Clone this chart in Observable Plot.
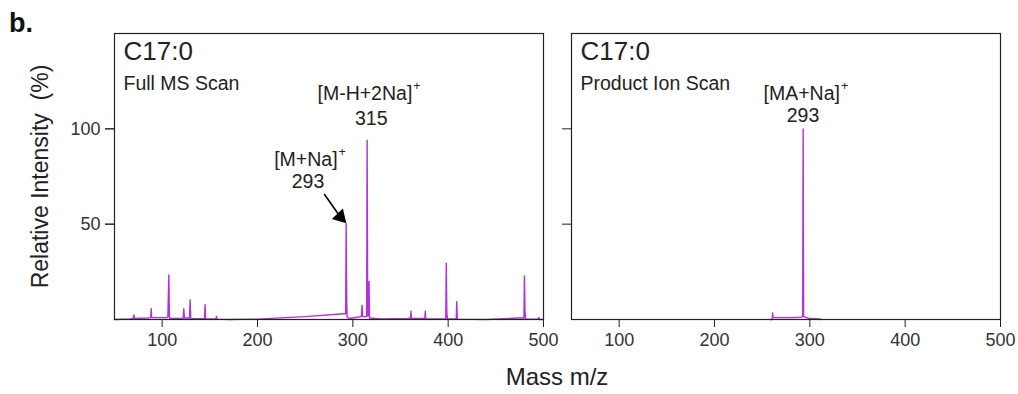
<!DOCTYPE html>
<html>
<head>
<meta charset="utf-8">
<script src="https://cdn.jsdelivr.net/npm/d3@7"></script>
<script src="https://cdn.jsdelivr.net/npm/@observablehq/plot@0.6"></script>
<style>
  html, body { margin: 0; padding: 0; background: #fff; }
  #wrap { position: relative; width: 1018px; height: 394px; font-family: "Liberation Sans", Arial, sans-serif; }
  #panel-letter { position: absolute; left: 9px; top: 8px; font-size: 27px; font-weight: bold; color: #111; }
  #xlabel { position: absolute; left: 0; width: 1114px; top: 363px; text-align: center; font-size: 24px; color: #222; }
  svg { position: absolute; left: 0; top: 0; }
</style>
</head>
<body>
<div id="wrap">
  <div id="chart"></div>
  <div id="panel-letter">b.</div>
  <div id="xlabel">Mass m/z</div>
</div>
<script>
// ---- data ----
const panels = ["full", "product"];
const panelTitles = ["Full MS Scan", "Product Ion Scan"];
const compound = "C17:0";
const yLabel = "Relative Intensity\u00a0\u00a0(%)";

// Full MS scan spectrum (m/z, relative intensity %)
const fullMz = [50, 66, 69.5, 70.4, 71, 85, 88, 88.5, 89, 104, 106, 107, 107.6, 108,
  122, 122.7, 123.3, 128.7, 129.3, 130, 144.4, 145, 145.6, 156.5, 157, 157.5, 170,
  200, 250, 291, 292.5, 293, 293.6, 294, 296, 305, 309, 309.7, 310.3, 314.5, 315,
  315.6, 316.5, 317, 317.5, 330, 358, 360.5, 361, 361.5, 375.5, 376, 376.5, 396.5,
  397.5, 398, 398.6, 399.2, 408.5, 409, 409.6, 440, 475, 479.5, 480, 480.6, 481.2,
  494, 495, 496, 500];
const fullIntensity = [0, 0.3, 0.5, 2.4, 0.5, 0.8, 1, 5.6, 1, 1, 1.2, 23.4, 1.5, 0.6,
  0.5, 5.6, 0.8, 0.8, 10.3, 0.4, 0.4, 7.7, 0.3, 0.3, 1.6, 0.2, 0,
  0.2, 1.5, 3, 3, 50.2, 9, 1.5, 0.5, 1.2, 1.5, 7.5, 1.5, 1.5, 94,
  2, 2, 20, 0.8, 0.3, 0.5, 0.8, 4.3, 0.5, 0.5, 4.3, 0.3, 0.3,
  0.5, 29.5, 3.5, 0.3, 0.3, 9.4, 0.2, 0, 0.8, 0.8, 22.9, 4, 0.3,
  0.2, 1, 0, 0];

// Product ion scan spectrum
const productMz = [258, 260.5, 261, 261.5, 280, 291, 292.5, 293, 293.5, 300, 310, 312];
const productIntensity = [0, 0, 3.5, 1, 1, 1.2, 1.5, 100, 1.5, 0.5, 0.3, 0];

// Ion annotations
const ionPanel = ["full", "full", "product"];
const ionFormula = ["[M-H+2Na]", "[M+Na]", "[MA+Na]"];
const ionMass = ["315", "293", "293"];
const ionFormulaX = [362.4, 284, 331.6];
const ionFormulaY = [118.4, 83.7, 118.4];
const ionMassX = [319.3, 253, 292.8];
const ionMassY = [105.4, 72.4, 107.1];

// Arrow toward the 293 peak in the full scan
const arrowFrom = {mz: 270, intensity: 65.8};
const arrowTo = {mz: 286.9, intensity: 53.8};

const xTicks = [100, 200, 300, 400, 500];
const yTicks = [50, 100];

// ---- tables ----
const spectrum = [
  ...fullMz.map((mz, i) => ({panel: "full", mz, intensity: fullIntensity[i]})),
  ...productMz.map((mz, i) => ({panel: "product", mz, intensity: productIntensity[i]}))
];
const headers = panels.map((p, i) => ({panel: p, compound, title: panelTitles[i]}));
const ions = ionPanel.map((p, i) => ({
  panel: p, formula: ionFormula[i], mass: ionMass[i],
  fx: ionFormulaX[i], fy: ionFormulaY[i], mx: ionMassX[i], my: ionMassY[i]
}));
const arrow = [{panel: "full", x1: arrowFrom.mz, y1: arrowFrom.intensity, x2: arrowTo.mz, y2: arrowTo.intensity}];
const yTitle = [{panel: "full", label: yLabel}];

const purple = "#b42ee4";
const chart = Plot.plot({
  width: 1018,
  height: 394,
  marginLeft: 114,
  marginRight: 18,
  marginTop: 33,
  marginBottom: 75,
  style: {fontFamily: "'Liberation Sans', Arial, sans-serif", fontSize: "18px", color: "#333", background: "transparent"},
  fx: {domain: panels, paddingInner: 0.0613, paddingOuter: 0, axis: null},
  x: {domain: [50, 500]},
  y: {domain: [0, 150]},
  marks: [
    Plot.line(spectrum, {x: "mz", y: "intensity", fx: "panel", z: "panel", stroke: purple, strokeWidth: 1.4}),
    Plot.frame({stroke: "#222", strokeWidth: 1.2}),
    Plot.axisX({ticks: xTicks, tickSize: 8, tickPadding: 6, fontSize: 18, label: null, stroke: "#222", fill: "#333"}),
    Plot.axisY({ticks: yTicks, tickSize: 9, tickPadding: 5, fontSize: 18, stroke: "#222", fill: "#333", label: null}),
    Plot.axisY({ticks: yTicks, tickSize: 9, tickFormat: () => "", label: null, stroke: "#222", facetAnchor: null}),
    Plot.text(yTitle, {fx: "panel", text: "label", frameAnchor: "left", textAnchor: "middle", rotate: -90, dx: -74, fontSize: 23, fill: "#222"}),
    Plot.text(headers, {fx: "panel", text: "compound", frameAnchor: "top-left", dx: 9, dy: 8, lineAnchor: "top", fontSize: 26, fill: "#222"}),
    Plot.text(headers, {fx: "panel", text: "title", frameAnchor: "top-left", dx: 9, dy: 43, lineAnchor: "top", fontSize: 19.5, fill: "#222"}),
    Plot.text(ions, {fx: "panel", x: "fx", y: "fy", text: "formula", textAnchor: "end", fontSize: 19.5, fill: "#222"}),
    Plot.text(ions, {fx: "panel", x: "fx", y: "fy", text: () => "+", textAnchor: "start", dx: 1, dy: -8, fontSize: 12.5, fill: "#222"}),
    Plot.text(ions, {fx: "panel", x: "mx", y: "my", text: "mass", fontSize: 19.5, fill: "#222"}),
    Plot.link(arrow, {fx: "panel", x1: "x1", y1: "y1", x2: "x2", y2: "y2", stroke: "#000", strokeWidth: 1.6}),
    Plot.dot(arrow, {fx: "panel", x: "x2", y: "y2", symbol: "triangle", r: 5.6, rotate: 137, fill: "#000", stroke: "none"})
  ]
});
document.getElementById("chart").appendChild(chart);
</script>
</body>
</html>
